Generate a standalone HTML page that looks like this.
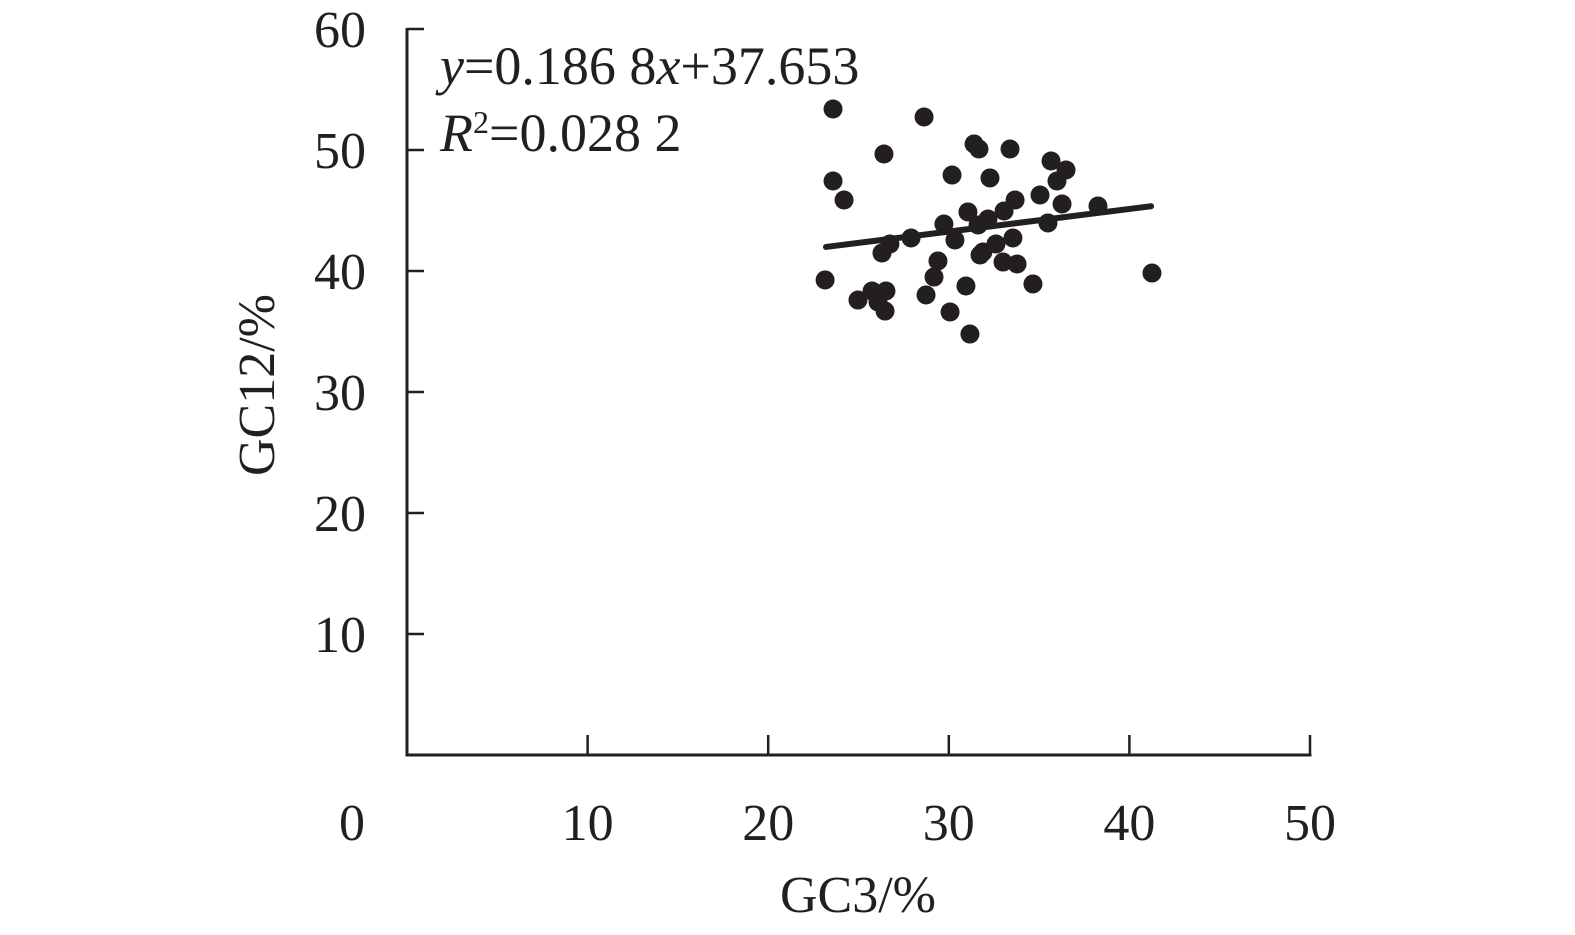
<!DOCTYPE html>
<html><head><meta charset="utf-8"><style>
html,body{margin:0;padding:0;background:#fff;}
svg{display:block;}
text{font-family:"Liberation Serif",serif;fill:#231f20;}
</style></head><body>
<svg id="chart" width="1575" height="935" viewBox="0 0 1575 935" xmlns="http://www.w3.org/2000/svg">
<g id="axes"></g>
<g id="marks"></g>
<text x="440" y="84" font-size="54"><tspan font-style="italic">y</tspan>=0.186 8<tspan font-style="italic">x</tspan>+37.653</text>
<text x="440" y="151" font-size="54"><tspan font-style="italic">R</tspan><tspan font-size="32" dy="-18">2</tspan><tspan dy="18">=0.028 2</tspan></text>
<text x="858" y="912" font-size="52" text-anchor="middle">GC3/%</text>
<text transform="translate(274,385) rotate(-90)" font-size="52" text-anchor="middle">GC12/%</text>
</svg>
<script>
const xTicks=[0,10,20,30,40,50];
const yTicks=[10,20,30,40,50,60];
const gc3=[23.59,28.63,31.40,31.67,33.39,35.66,36.49,26.41,30.18,32.28,35.99,23.59,24.20,33.67,35.05,36.27,38.26,33.06,31.06,35.49,32.17,29.73,31.62,33.55,27.91,30.34,26.74,26.30,32.61,31.89,31.73,33.00,33.78,29.40,29.18,23.15,41.25,34.66,30.95,25.75,26.52,24.97,26.08,28.74,26.47,30.07,31.17];
const gc12=[53.39,52.73,50.50,50.08,50.08,49.09,48.35,49.67,47.93,47.69,47.44,47.44,45.87,45.87,46.28,45.54,45.37,44.96,44.88,43.97,44.30,43.88,43.80,42.73,42.73,42.56,42.23,41.49,42.23,41.57,41.32,40.74,40.58,40.83,39.50,39.26,39.83,38.93,38.76,38.35,38.35,37.60,37.44,38.02,36.69,36.61,34.79];
const slope=0.1868, intercept=37.653;
const fitRange=[23.2,41.2];
const NS="http://www.w3.org/2000/svg";
const X=v=>407+v*18.06;
const Y=v=>755-v*12.1;
function mk(tag,attrs,parent){const e=document.createElementNS(NS,tag);for(const k in attrs)e.setAttribute(k,attrs[k]);parent.appendChild(e);return e;}
const axes=document.getElementById('axes'), marks=document.getElementById('marks');
let l=mk('line',{x1:X(0),y1:Y(60)-1,x2:X(0),y2:Y(0)+1.5,stroke:'#231f20','stroke-width':3},axes);


l=mk('line',{x1:X(0)-1.5,y1:Y(0),x2:X(50)+1.5,y2:Y(0),stroke:'#231f20','stroke-width':3},axes);


xTicks.forEach(t=>{
  if(t>0){const tk=mk('line',{x1:X(t),y1:Y(0),x2:X(t),y2:Y(0)-20,stroke:'#231f20','stroke-width':2.5},axes);
  
  }
  const tx=mk('text',{x:t===0?352:X(t),y:840,'font-size':52,'text-anchor':'middle'},axes);
  tx.textContent=t;
  
  
});
yTicks.forEach(t=>{
  const tk=mk('line',{x1:X(0),y1:Y(t),x2:X(0)+17,y2:Y(t),stroke:'#231f20','stroke-width':2.5},axes);
  
  
  const tx=mk('text',{x:366,y:Y(t)+18,'font-size':52,'text-anchor':'end'},axes);
  tx.textContent=t;
  
  
});
gc3.forEach((v,i)=>{
  const c=mk('circle',{cx:X(v),cy:Y(gc12[i]),r:9.5,fill:'#231f20'},marks);
  
  
});
const fl=mk('line',{x1:X(fitRange[0]),y1:Y(slope*fitRange[0]+intercept),x2:X(fitRange[1]),y2:Y(slope*fitRange[1]+intercept),stroke:'#231f20','stroke-width':6,'stroke-linecap':'round'},marks);


</script>
</body></html>
